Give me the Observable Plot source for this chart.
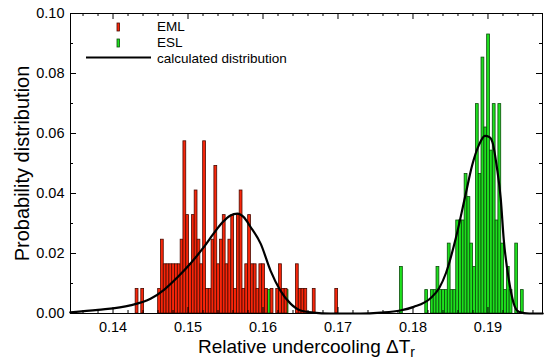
<!DOCTYPE html>
<html><head><meta charset="utf-8">
<script src="https://cdn.jsdelivr.net/npm/d3@7"></script>
<script src="https://cdn.jsdelivr.net/npm/@observablehq/plot@0.6"></script>
<style>
body{margin:0;background:#fff;}
#chart{width:548px;height:363px;}
</style></head><body><div id="chart"></div>
<script>
// ---- data ----
const binWidth = 0.000375;
const emlBins = [0.14302,0.14377,
  0.14602,0.14639,0.14677,0.14714,0.14752,0.14789,0.14827,0.14864,0.14902,0.14939,
  0.14977,0.15014,0.15052,0.15089,0.15127,0.15164,0.15202,0.15239,0.15277,0.15314,
  0.15352,0.15389,0.15427,0.15464,0.15502,0.15539,0.15577,0.15614,0.15652,0.15689,
  0.15727,0.15764,0.15802,0.15839,0.15877,0.15914,0.15952,0.15989,0.16027,
  0.16102,0.16177,0.16214,0.16252,0.16289,0.16439,0.16477,0.16514,0.16552,0.16664,0.16964];
const emlProb = [0.0082,0.0082,
  0.0082,0.0246,0.0164,0.0164,0.0164,0.0164,0.0164,0.0164,0.0246,0.0574,
  0.0328,0.0164,0.0328,0.0410,0.0246,0.0164,0.0574,0.0082,0.0082,0.0246,
  0.0492,0.0164,0.0246,0.0328,0.0164,0.0246,0.0328,0.0082,0.0328,0.0410,
  0.0082,0.0164,0.0328,0.0164,0.0164,0.0082,0.0164,0.0164,0.0082,
  0.0082,0.0082,0.0164,0.0082,0.0082,0.0164,0.0082,0.0082,0.0082,0.0082,0.0082];
const eslBins = [0.16064,0.16302,0.17827,
  0.18164,0.18239,0.18277,0.18314,0.18352,0.18389,0.18427,
  0.18464,0.18502,0.18539,0.18577,0.18614,0.18652,0.18689,0.18727,0.18764,0.18802,
  0.18839,0.18877,0.18914,0.18952,0.18989,0.19027,0.19064,0.19102,0.19139,0.19177,
  0.19214,0.19252,0.19289,0.19364,0.19439];
const eslProb = [0.0078,0.0078,0.0155,
  0.0078,0.0078,0.0078,0.0155,0.0078,0.0078,0.0078,
  0.0233,0.0078,0.0078,0.0310,0.0310,0.0310,0.0465,0.0388,0.0233,0.0155,
  0.0698,0.0465,0.0853,0.0620,0.0930,0.0543,0.0698,0.0310,0.0698,0.0233,
  0.0078,0.0155,0.0078,0.0233,0.0078];
const curveX = [0.1343,0.1380,0.1423,0.1450,0.1468,0.1486,0.1503,0.1521,0.1534,0.1546,
  0.1556,0.1566,0.1574,0.1583,0.1597,0.1610,0.1623,0.1637,0.1650,0.1667,0.1690,
  0.1730,0.1757,0.1783,0.1801,0.1823,0.1835,0.1844,0.1857,0.1870,0.1879,0.1888,
  0.1896,0.1902,0.1906,0.1912,0.1917,0.1921,0.1928,0.1934,0.1941,0.1955,0.1973];
const curveP = [0.0004,0.0012,0.0027,0.0049,0.0079,0.0121,0.0166,0.0221,0.0266,0.0304,
  0.0326,0.0333,0.0322,0.0290,0.0232,0.0143,0.0077,0.0032,0.0010,0.0003,0.0000,
  0.0000,0.0003,0.0010,0.0022,0.0050,0.0085,0.0135,0.0250,0.0395,0.0495,0.0562,
  0.0592,0.0588,0.0571,0.0485,0.0383,0.0247,0.0110,0.0036,0.0006,0.0000,0.0000];
const xMajorTicks = [0.14,0.15,0.16,0.17,0.18,0.19];
const xMinorTicks = [0.136,0.138,0.142,0.144,0.146,0.148,0.152,0.154,0.156,0.158,
  0.162,0.164,0.166,0.168,0.172,0.174,0.176,0.178,0.182,0.184,0.186,0.188,0.192,0.194,0.196];
const yMajorTicks = [0.00,0.02,0.04,0.06,0.08,0.10];
const yMinorTicks = [0.01,0.03,0.05,0.07,0.09];
const legendLabels = ["EML","ESL","calculated distribution"];
const xTitle = "Relative undercooling ΔT";
const xTitleSub = "r";
const yTitle = "Probability distribution";

// ---- tables ----
const eml = emlBins.map((x, i) => ({x0: x, x1: x + binWidth, p: emlProb[i]}));
const esl = eslBins.map((x, i) => ({x0: x, x1: x + binWidth, p: eslProb[i]}));
const curve = curveX.map((x, i) => ({x, p: curveP[i]}));

const W = 548, H = 363, mT = 13, mL = 70, mR = 6, mB = 50;
const iw = W - mL - mR, ih = H - mT - mB;
const RED = "#f8260a", REDS = "#4a0a00", GREEN = "#1ee01e", GREENS = "#0a4d0a";
const font = "Liberation Sans, Arial, Helvetica, sans-serif";

const chart = Plot.plot({
  width: W, height: H,
  marginTop: mT, marginLeft: mL, marginRight: mR, marginBottom: mB,
  style: {fontFamily: font, background: "#fff", color: "#000"},
  x: {domain: [0.13433, 0.19727], axis: null},
  y: {domain: [0, 0.1], axis: null},
  marks: [
    Plot.rect(esl, {x1: "x0", x2: "x1", y1: 0, y2: "p", fill: GREEN, stroke: GREENS, strokeWidth: 0.8}),
    Plot.rect(eml, {x1: "x0", x2: "x1", y1: 0, y2: "p", fill: RED, stroke: REDS, strokeWidth: 0.8}),
    Plot.line(curve, {x: "x", y: "p", stroke: "#000", strokeWidth: 2.2, curve: "monotone-x"}),
    Plot.frame({stroke: "#000", strokeWidth: 1}),
    // inward ticks, all four sides
    Plot.tickX(xMajorTicks, {x: d => d, stroke: "#000", insetTop: ih - 6}),
    Plot.tickX(xMajorTicks, {x: d => d, stroke: "#000", insetBottom: ih - 6}),
    Plot.tickX(xMinorTicks, {x: d => d, stroke: "#000", insetTop: ih - 3}),
    Plot.tickX(xMinorTicks, {x: d => d, stroke: "#000", insetBottom: ih - 3}),
    Plot.tickY(yMajorTicks, {y: d => d, stroke: "#000", insetRight: iw - 6}),
    Plot.tickY(yMajorTicks, {y: d => d, stroke: "#000", insetLeft: iw - 6}),
    Plot.tickY(yMinorTicks, {y: d => d, stroke: "#000", insetRight: iw - 3}),
    Plot.tickY(yMinorTicks, {y: d => d, stroke: "#000", insetLeft: iw - 3}),
    // tick labels
    Plot.text(xMajorTicks, {x: d => d, frameAnchor: "bottom", dy: 14, text: d => d.toFixed(2), fontSize: 14.5, lineAnchor: "middle", textAnchor: "middle", fill: "#000"}),
    Plot.text(yMajorTicks, {y: d => d, frameAnchor: "left", dx: -6, text: d => d.toFixed(2), fontSize: 14.5, textAnchor: "end", fill: "#000"}),
    // titles
    Plot.text([xTitle], {frameAnchor: "bottom", dy: 33, text: d => d, fontSize: 19, lineAnchor: "middle", textAnchor: "middle", fill: "#000"}),
    Plot.text([yTitle], {frameAnchor: "left", dx: -48, rotate: -90, text: d => d, fontSize: 20, textAnchor: "middle", lineAnchor: "middle", fill: "#000"})
  ]
});
document.getElementById("chart").appendChild(chart);

// subscript on x title
const svg = d3.select(chart);
svg.selectAll("text").filter(function() { return this.textContent === xTitle; })
  .append("tspan").attr("dy", "0.35em").attr("font-size", 14).text(xTitleSub);

// legend inside the frame
const lg = svg.append("g").attr("font-family", font).attr("font-size", 13.5)
  .attr("fill", "#000").attr("text-anchor", "start");
lg.append("rect").attr("x", 117).attr("y", 23).attr("width", 2.5).attr("height", 8)
  .attr("fill", RED).attr("stroke", REDS).attr("stroke-width", 0.8);
lg.append("text").attr("x", 157).attr("y", 31).text(legendLabels[0]);
lg.append("rect").attr("x", 117).attr("y", 39).attr("width", 2.5).attr("height", 8)
  .attr("fill", GREEN).attr("stroke", GREENS).attr("stroke-width", 0.8);
lg.append("text").attr("x", 157).attr("y", 47).text(legendLabels[1]);
lg.append("line").attr("x1", 86).attr("x2", 151).attr("y1", 57.5).attr("y2", 57.5)
  .attr("stroke", "#000").attr("stroke-width", 2.2);
lg.append("text").attr("x", 157).attr("y", 62.5).text(legendLabels[2]);
</script>
</body></html>
